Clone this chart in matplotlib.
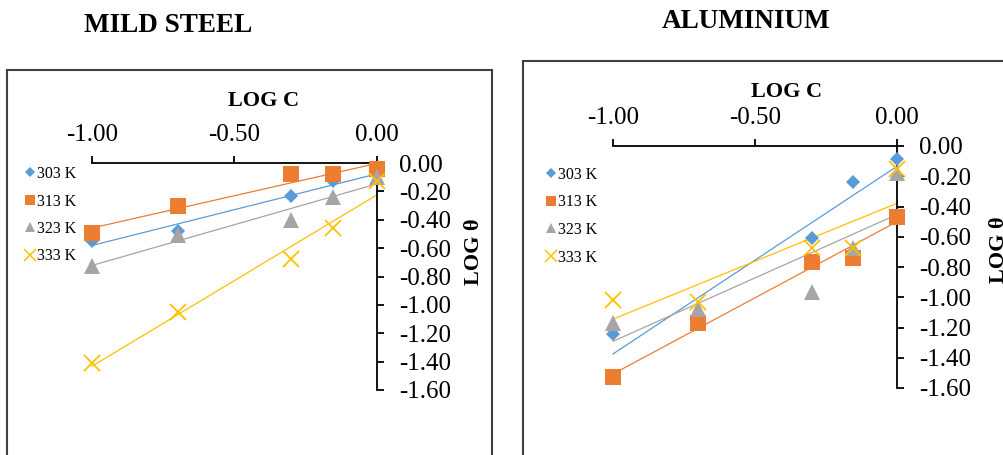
import matplotlib
matplotlib.use("Agg")
import matplotlib.pyplot as plt
from matplotlib.lines import Line2D
from matplotlib.patches import Rectangle
import numpy as np

plt.rcParams['font.family'] = ['Liberation Serif', 'DejaVu Serif']

log_c = [-1.00, -0.699, -0.301, -0.155, 0.00]
temps = ["303 K", "313 K", "323 K", "333 K"]

# log theta, mild steel
steel_303 = [-0.55, -0.48, -0.23, -0.125, -0.085]
steel_313 = [-0.49, -0.30, -0.08, -0.08, -0.045]
steel_323 = [-0.725, -0.51, -0.40, -0.24, -0.10]
steel_333 = [-1.41, -1.05, -0.68, -0.46, -0.125]

# log theta, aluminium
alu_303 = [-1.24, -1.17, -0.61, -0.237, -0.088]
alu_313 = [-1.53, -1.17, -0.765, -0.738, -0.468]
alu_323 = [-1.17, -1.08, -0.966, -0.676, -0.18]
alu_333 = [-1.017, -1.03, -0.676, -0.672, -0.15]

x_ticks = [-1.0, -0.5, 0.0]
y_ticks = [0.0, -0.2, -0.4, -0.6, -0.8, -1.0, -1.2, -1.4, -1.6]

colors = ['#5B9BD5', '#ED7D31', '#A5A5A5', '#FFC000']
markers = ['D', 's', '^', 'x']
msizes = [7.5, 11, 11, 12]

W, H = 1004, 455
fig = plt.figure(figsize=(W / 100, H / 100), dpi=100)


def px_axes(x0, x1, ytop, ybot):
    return fig.add_axes([x0 / W, 1 - ybot / H, (x1 - x0) / W, (ybot - ytop) / H])


def draw_panel(ax, series):
    x = np.array(log_c)
    # linear trendlines first, markers on top
    for ys, c in zip(series, colors):
        slope, icpt = np.polyfit(x, ys, 1)
        xs = np.array([-1.0, 0.0])
        ax.plot(xs, slope * xs + icpt, color=c, lw=0.9, zorder=2, clip_on=False)
    for ys, c, m, ms in zip(series, colors, markers, msizes):
        if m == 'x':
            ax.plot(x, ys, ls='none', marker=m, ms=ms, mew=1.3, color=c,
                    zorder=3, clip_on=False)
        else:
            ax.plot(x, ys, ls='none', marker=m, ms=ms, mew=0, color=c,
                    zorder=3, clip_on=False)
    ax.set_xlim(-1, 0)
    ax.set_ylim(-1.6, 0)
    ax.patch.set_visible(False)
    ax.spines['left'].set_visible(False)
    ax.spines['bottom'].set_visible(False)
    ax.spines['top'].set_linewidth(1.3)
    ax.spines['right'].set_linewidth(1.3)
    ax.xaxis.tick_top()
    ax.yaxis.tick_right()
    ax.set_xticks(x_ticks)
    ax.set_yticks(y_ticks)
    ax.set_xticklabels([f"{v:.2f}" for v in x_ticks])
    ax.set_yticklabels([f"{v:.2f}" for v in y_ticks])
    ax.tick_params(axis='x', direction='out', length=5, width=1.3, pad=7,
                   labelsize=18)
    ax.tick_params(axis='y', direction='out', length=5, width=1.3, pad=11,
                   labelsize=18)


def draw_legend(ax, x_px, y_px):
    handles = []
    for c, m in zip(colors, markers):
        if m == 'x':
            handles.append(Line2D([], [], ls='none', marker=m, ms=8, mew=1.1, color=c))
        else:
            handles.append(Line2D([], [], ls='none', marker=m,
                                  ms=5.5 if m == 'D' else 7.5, mew=0, color=c))
    ax.legend(handles, temps, loc='upper left',
              bbox_to_anchor=(x_px / W, 1 - y_px / H),
              bbox_transform=fig.transFigure, frameon=False,
              fontsize=11.5, handlelength=0.6, handletextpad=0.15,
              labelspacing=0.72, borderpad=0, borderaxespad=0)


ax1 = px_axes(92, 377, 163, 390)
draw_panel(ax1, [steel_303, steel_313, steel_323, steel_333])
draw_legend(ax1, 25, 166)

ax2 = px_axes(613, 897, 146, 388)
draw_panel(ax2, [alu_303, alu_313, alu_323, alu_333])
draw_legend(ax2, 546, 167)

# chart borders
fig.add_artist(Rectangle((7 / W, 1 - 470 / H), 485 / W, 400 / H,
                         transform=fig.transFigure, fill=False,
                         ec='#404040', lw=1.5))
fig.add_artist(Rectangle((523 / W, 1 - 470 / H), 500 / W, 409 / H,
                         transform=fig.transFigure, fill=False,
                         ec='#404040', lw=1.5))

# titles and axis names
fig.text(168 / W, 1 - 25 / H, "MILD STEEL", ha='center', va='center',
         fontsize=19.5, fontweight='bold')
fig.text(746 / W, 1 - 21 / H, "ALUMINIUM", ha='center', va='center',
         fontsize=19.5, fontweight='bold')
fig.text(264 / W, 1 - 101 / H, "LOG C", ha='center', va='center',
         fontsize=16, fontweight='bold')
fig.text(787 / W, 1 - 92 / H, "LOG C", ha='center', va='center',
         fontsize=16, fontweight='bold')
fig.text(474 / W, 1 - 252 / H, "LOG θ", ha='center', va='center',
         fontsize=16, fontweight='bold', rotation=90)
# right-hand axis name runs off the edge of the chart area
fig.text(999 / W, 1 - 250 / H, "LOG θ", ha='center', va='center',
         fontsize=16, fontweight='bold', rotation=90)

fig.savefig("out.png", dpi=100)
